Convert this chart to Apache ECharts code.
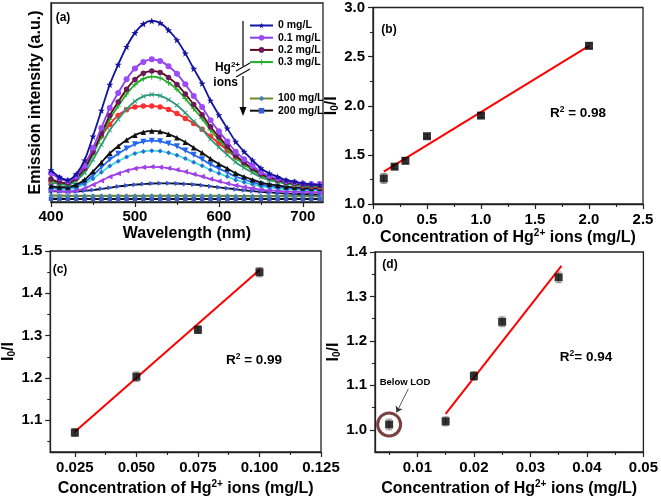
<!DOCTYPE html>
<html><head><meta charset="utf-8">
<script src="https://cdn.jsdelivr.net/npm/echarts@6/dist/echarts.min.js"></script>
<style>html,body{margin:0;padding:0;background:#fff}#c{width:661px;height:499px}</style>
</head><body><div id="c"></div>
<script>
// ---------- Panel (a): emission spectra ----------
const wavelengths = [400,410,420,430,440,450,460,470,480,490,500,510,520,530,540,550,560,570,580,590,600,610,620,630,640,650,660,670,680,690,700,710,720];
const spec0   = [16,12.5,11,14,21,33,46,59,69,78,85,89.5,91,90,86.4,81.4,74.7,67,59.6,51,43.7,37,30.3,25.3,21,17,14.4,12.7,11,10.2,9.4,8.9,8.5];
const spec01  = [14.5,12,10.5,12.8,18.2,27.2,37.2,47.2,54.8,61.7,67.1,70.4,71.7,70.9,68.2,64.4,59.2,53.3,47.7,41.1,35.5,30.4,25.3,21.5,18.2,15.1,13.1,11.8,10.5,9.9,9.3,9.1,9];
const spec02  = [11.5,10,9.5,11.9,16.9,25.1,34.3,43.5,50.3,56.6,61.6,64.7,65.8,65.1,62.6,59.1,54.3,49,43.9,37.8,32.7,28,23.4,19.9,16.9,14.1,12.3,11.1,9.9,9.4,8.8,8.5,8.5];
const spec03  = [11,9.5,9,11.3,16,24,32.8,41.6,48.2,54.2,59,61.9,63,62.3,59.9,56.6,52,46.9,41.9,36.2,31.3,26.8,22.3,18.9,16,13.4,11.6,10.5,9.3,8.8,8.3,8,8];
const spec04  = [10,9,8.5,10.8,14.7,21.3,28.7,36.1,41.6,46.6,50.6,53.1,54,53.4,51.4,48.6,44.8,40.5,36.4,31.6,27.5,23.7,20,17.2,14.7,12.5,11,10.1,9.1,8.7,8.2,8,8];
const spec05  = [10,9.5,10,13,19,26,33,39,43.5,46.3,47.8,48.2,48.2,47.8,46.5,44.5,42,39.5,36.5,33,29.5,26,22.5,19.5,16.5,14,12,10.5,9.5,8.8,8.2,7.8,7.5];
const spec06  = [8,7.5,7.5,8.7,11.2,15.3,19.9,24.5,28,31.1,33.6,35.1,35.7,35.4,34.1,32.3,30,27.3,24.7,21.7,19.1,16.8,14.5,12.7,11.2,9.8,8.9,8.3,7.7,7.4,7.1,7,7];
const spec07  = [7.5,7,7,8,10,13.5,17.4,21.3,24.2,26.9,29,30.3,30.8,30.5,29.4,28,25.9,23.7,21.5,18.9,16.8,14.8,12.8,11.3,10,8.9,8.1,7.6,7.1,6.9,6.6,6.5,6.5];
const spec08  = [7,6.5,6.5,7.2,8.9,11.7,14.9,18.1,20.5,22.6,24.4,25.4,25.8,25.6,24.7,23.5,21.8,20,18.2,16.1,14.4,12.8,11.1,9.9,8.9,7.9,7.3,6.9,6.5,6.3,6.1,6,6];
const spec09  = [6,5.5,5.2,5.8,6.9,8.7,10.7,12.7,14.3,15.7,16.8,17.4,17.7,17.5,17,16.2,15.2,14,12.8,11.5,10.4,9.3,8.3,7.5,6.9,6.2,5.8,5.6,5.3,5.2,5.1,5,5];
const spec10  = [5.5,5.3,5.2,5.3,5.6,6,6.6,7.2,7.8,8.3,8.7,9,9.3,9.4,9.4,9.3,9.1,8.8,8.4,7.9,7.4,6.9,6.4,5.9,5.5,5.1,4.8,4.5,4.3,4.1,4,3.9,3.8];
const spec100 = [3.3,3.2,3.1,3.1,3.1,3.1,3.1,3.1,3.1,3.1,3.1,3.1,3.1,3.1,3.1,3.1,3.1,3.1,3.1,3.1,3.1,3.1,3,3,3,3,3,3,3,3,3,3,3];
const spec200 = [1.6,1.6,1.5,1.5,1.5,1.5,1.5,1.5,1.5,1.5,1.5,1.5,1.5,1.5,1.5,1.5,1.5,1.5,1.5,1.5,1.5,1.5,1.5,1.5,1.5,1.5,1.5,1.5,1.5,1.5,1.5,1.5,1.5];
const specNames = ['0 mg/L','0.1 mg/L','0.2 mg/L','0.3 mg/L','s4','s5','s6','s7','s8','s9','s10','100 mg/L','200 mg/L'];
const waveTicks = [400,500,600,700];
const waveMinor = [450,550,650];

// ---------- Panel (b) ----------
const concB = [0.1,0.2,0.3,0.5,1.0,2.0];
const ratioB = [1.26,1.38,1.44,1.69,1.90,2.61];
const errB = [0.05,0.02,0.03,0.02,0.02,0.03];
const fitB = [[0.1,1.33],[2.0,2.61]];
const bXTicks = [0,0.5,1,1.5,2,2.5], bXMinor = [0.25,0.75,1.25,1.75,2.25];
const bYTicks = [1,1.5,2,2.5,3], bYMinor = [1.25,1.75,2.25,2.75];

// ---------- Panel (c) ----------
const concC = [0.025,0.05,0.075,0.1];
const ratioC = [1.071,1.203,1.314,1.450];
const errC = [0.009,0.011,0.009,0.011];
const fitC = [[0.025,1.073],[0.1,1.455]];
const cXTicks = [0.025,0.05,0.075,0.1,0.125], cXMinor = [0.0375,0.0625,0.0875,0.1125];
const cYTicks = [1.1,1.2,1.3,1.4,1.5], cYMinor = [1.05,1.15,1.25,1.35,1.45];

// ---------- Panel (d) ----------
const concD = [0.005,0.015,0.02,0.025,0.035];
const ratioD = [1.012,1.019,1.121,1.243,1.343];
const errD = [0.012,0.01,0.01,0.011,0.012];
const fitD = [[0.015,1.036],[0.0355,1.369]];
const dXTicks = [0.01,0.02,0.03,0.04,0.05], dXMinor = [0.005,0.015,0.025,0.035,0.045];
const dYTicks = [1.0,1.1,1.2,1.3,1.4], dYMinor = [1.05,1.15,1.25,1.35];

const AX = '#222';
const F = '"Liberation Sans", Arial, sans-serif';
const tickFont = {fontFamily: F, fontWeight: 'bold', fontSize: 15, color: '#000'};
const titleRich = {
  t: {fontFamily: F, fontWeight: 'bold', fontSize: 16, color: '#000'},
  sup: {fontFamily: F, fontWeight: 'bold', fontSize: 10, color: '#000', padding: [0,0,9,0]},
  sub: {fontFamily: F, fontWeight: 'bold', fontSize: 10, color: '#000', padding: [0,0,-7,0]}
};
const concTitle = '{t|Concentration of Hg}{sup|2+}{t| ions (mg/L)}';
const ratioTitle = '{t|I}{sub|0}{t|/I}';

const grids = [
  {left: 51, top: 3, width: 272, height: 199},
  {left: 373, top: 6, width: 270, height: 198},
  {left: 46, top: 251, width: 275, height: 201},
  {left: 375, top: 252, width: 271, height: 200}
].map(g => Object.assign(g, {show: true, borderColor: AX, borderWidth: 1.3, backgroundColor: 'transparent'}));

function mainAxis(gi, min, max, ticks, fmt, extra) {
  return Object.assign({
    type: 'value', gridIndex: gi, min: min, max: max,
    splitLine: {show: false},
    axisLine: {show: true, onZero: false, lineStyle: {color: AX, width: 1.3}},
    axisTick: {show: true, inside: false, length: 5, customValues: ticks, lineStyle: {color: AX, width: 1.2}},
    axisLabel: Object.assign({show: true, customValues: ticks, formatter: fmt}, tickFont)
  }, extra || {});
}
function minorAxis(gi, min, max, minors, pos) {
  return {
    type: 'value', gridIndex: gi, min: min, max: max, position: pos, offset: 0,
    splitLine: {show: false}, axisLine: {show: false},
    axisTick: {show: minors.length > 0, inside: false, length: 3, customValues: minors.length ? minors : [min], lineStyle: {color: AX, width: 1.1}},
    axisLabel: {show: false}
  };
}
const f1 = v => v.toFixed(1), f2 = v => v.toFixed(2), f3 = v => v.toFixed(3), f0 = v => String(v);

const xAxes = [
  mainAxis(0, 400, 724, waveTicks, f0, {position: 'bottom', name: 'Wavelength (nm)', nameLocation: 'middle', nameGap: 24, nameTextStyle: titleRich.t, axisLabel: Object.assign({customValues: waveTicks, formatter: f0, margin: 7}, tickFont)}),
  mainAxis(1, 0, 2.5, bXTicks, f1, {position: 'bottom', name: concTitle, nameLocation: 'middle', nameGap: 20, nameTextStyle: {rich: titleRich}}),
  mainAxis(2, 0.015, 0.125, cXTicks, f3, {position: 'bottom', name: concTitle, nameLocation: 'middle', nameGap: 27, nameTextStyle: {rich: titleRich}}),
  mainAxis(3, 0.0025, 0.05, dXTicks, f2, {position: 'bottom', name: concTitle, nameLocation: 'middle', nameGap: 27, nameTextStyle: {rich: titleRich}}),
  minorAxis(0, 400, 724, waveMinor, 'bottom'),
  minorAxis(1, 0, 2.5, bXMinor, 'bottom'),
  minorAxis(2, 0.015, 0.125, cXMinor, 'bottom'),
  minorAxis(3, 0.0025, 0.05, dXMinor, 'bottom')
];
const yAxes = [
  {type: 'value', gridIndex: 0, min: 0, max: 100, position: 'left', splitLine: {show: false},
   axisLine: {show: true, lineStyle: {color: AX, width: 1.3}}, axisTick: {show: false}, axisLabel: {show: false},
   name: 'Emission intensity (a.u.)', nameLocation: 'middle', nameGap: 7, nameTextStyle: titleRich.t},
  mainAxis(1, 1, 3, bYTicks, f1, {position: 'left', name: ratioTitle, nameLocation: 'middle', nameGap: 27, nameTextStyle: {rich: titleRich}}),
  mainAxis(2, 1.025, 1.5, cYTicks, f1, {position: 'left', name: ratioTitle, nameLocation: 'middle', nameGap: 29, nameTextStyle: {rich: titleRich}}),
  mainAxis(3, 0.95, 1.4, dYTicks, f1, {position: 'left', name: ratioTitle, nameLocation: 'middle', nameGap: 29, nameTextStyle: {rich: titleRich}}),
  minorAxis(0, 0, 100, [], 'left'),
  minorAxis(1, 1, 3, bYMinor, 'left'),
  minorAxis(2, 1.025, 1.5, cYMinor, 'left'),
  minorAxis(3, 0.95, 1.4, dYMinor, 'left')
];

const STAR = 'path://M0,-10 L2.4,-3.1 L9.5,-3.1 L3.8,1.2 L5.9,8.1 L0,3.8 L-5.9,8.1 L-3.8,1.2 L-9.5,-3.1 L-2.4,-3.1 Z';
const PLUS = 'path://M-1.5,-10 L1.5,-10 L1.5,-1.5 L10,-1.5 L10,1.5 L1.5,1.5 L1.5,10 L-1.5,10 L-1.5,1.5 L-10,1.5 L-10,-1.5 L-1.5,-1.5 Z';
const specs = [spec0, spec01, spec02, spec03, spec04, spec05, spec06, spec07, spec08, spec09, spec10, spec100, spec200];
const specStyle = [
  {line: '#1414a0', mark: '#1414a0', sym: STAR, size: 7, rot: 0},
  {line: '#8a3cf0', mark: '#9b4cf7', sym: 'circle', size: 6, rot: 0},
  {line: '#5c0a14', mark: '#6a1a5a', sym: 'circle', size: 5.5, rot: 0},
  {line: '#1faa2a', mark: '#1faa2a', sym: PLUS, size: 6, rot: 0},
  {line: '#2e9a7a', mark: '#2e9a7a', sym: PLUS, size: 6, rot: 45},
  {line: '#ff2020', mark: '#ff3030', sym: 'circle', size: 5.5, rot: 0},
  {line: '#111111', mark: '#111111', sym: 'triangle', size: 5.5, rot: 0},
  {line: '#2266ee', mark: '#2266ee', sym: 'triangle', size: 6, rot: 180},
  {line: '#3fe0d8', mark: '#2a6fd6', sym: 'diamond', size: 5, rot: 0},
  {line: '#a040e8', mark: '#a040e8', sym: 'triangle', size: 5.5, rot: 90},
  {line: '#111111', mark: '#3355dd', sym: 'triangle', size: 5, rot: -90},
  {line: '#6e8b2a', mark: '#4a7fc0', sym: 'diamond', size: 5, rot: 0},
  {line: '#111111', mark: '#3a5fcd', sym: 'rect', size: 4.5, rot: 0}
];
const series = [];
specs.forEach((arr, k) => {
  const s = specStyle[k];
  series.push({
    type: 'line', name: specNames[k], xAxisIndex: 0, yAxisIndex: 0, smooth: 0.3,
    data: wavelengths.map((w, i) => [w, arr[i]]),
    symbol: s.sym, symbolSize: s.size, symbolRotate: s.rot, showAllSymbol: true,
    lineStyle: {color: s.line, width: k >= 11 ? 2.2 : 1.8},
    itemStyle: {color: s.mark, borderWidth: 0},
    z: 20 - k, animation: false
  });
});

function errSeries(xi, xs, ys, es) {
  return {
    type: 'custom', xAxisIndex: xi, yAxisIndex: xi, z: 5, animation: false,
    data: xs.map((x, i) => [x, ys[i] - es[i], ys[i] + es[i]]),
    encode: {x: 0, y: [1, 2]},
    renderItem: function (params, api) {
      const lo = api.coord([api.value(0), api.value(1)]);
      const hi = api.coord([api.value(0), api.value(2)]);
      const st = {stroke: '#888', lineWidth: 1};
      return {type: 'group', children: [
        {type: 'line', shape: {x1: lo[0], y1: lo[1], x2: hi[0], y2: hi[1]}, style: st},
        {type: 'line', shape: {x1: lo[0] - 3, y1: lo[1], x2: lo[0] + 3, y2: lo[1]}, style: st},
        {type: 'line', shape: {x1: hi[0] - 3, y1: hi[1], x2: hi[0] + 3, y2: hi[1]}, style: st}
      ]};
    }
  };
}
function pts(xi, xs, ys) {
  return {type: 'scatter', xAxisIndex: xi, yAxisIndex: xi, symbol: 'rect', symbolSize: 8, z: 8, animation: false,
    itemStyle: {color: '#000'}, data: xs.map((x, i) => [x, ys[i]])};
}
function fit(xi, d) {
  return {type: 'line', xAxisIndex: xi, yAxisIndex: xi, data: d, symbol: 'none', z: 6, animation: false,
    lineStyle: {color: '#ff0000', width: 2}};
}
series.push(fit(1, fitB), errSeries(1, concB, ratioB, errB), pts(1, concB, ratioB));
series.push(fit(2, fitC), errSeries(2, concC, ratioC, errC), pts(2, concC, ratioC));
series.push(fit(3, fitD), errSeries(3, concD, ratioD, errD), pts(3, concD, ratioD));
// Below LOD ring + arrow
series.push({
  type: 'scatter', xAxisIndex: 3, yAxisIndex: 3, symbol: 'circle', symbolSize: 23, z: 9, animation: false,
  itemStyle: {color: 'rgba(0,0,0,0)', borderColor: '#5a1010', borderWidth: 3},
  data: [[concD[0], ratioD[0]]],
  markLine: {silent: true, animation: false, symbol: ['none', 'arrow'], symbolSize: 6,
    lineStyle: {color: '#333', width: 0.8, type: 'solid'}, label: {show: false},
    data: [[{coord: [0.0084, 1.092]}, {coord: [0.0063, 1.039]}]]}
});

const legText = {fontFamily: F, fontWeight: 'bold', fontSize: 10.5, color: '#000'};
const lblStyle = (t, x, y, size) => ({type: 'text', x: x, y: y, z: 50,
  style: {text: t, font: 'bold ' + size + 'px "Liberation Sans", Arial', fill: '#000', align: 'center', verticalAlign: 'middle'}});
const rich2 = {a: {fontFamily: F, fontWeight: 'bold', fontSize: 13.5, color: '#000'},
               s: {fontFamily: F, fontWeight: 'bold', fontSize: 8.5, color: '#000', padding: [0, 0, 7, 0]}};
const r2 = (t, x, y) => ({type: 'text', x: x, y: y, z: 50,
  style: {text: t, rich: rich2, align: 'center', verticalAlign: 'middle'}});

const option = {
  backgroundColor: '#fff',
  animation: false,
  grid: grids,
  xAxis: xAxes,
  yAxis: yAxes,
  legend: [
    {data: specNames.slice(0, 4), orient: 'vertical', left: 249, top: 20, itemWidth: 23, itemHeight: 7, itemGap: 1.2,
     selectedMode: false, textStyle: legText, padding: 0},
    {data: specNames.slice(11), orient: 'vertical', left: 249, top: 93, itemWidth: 23, itemHeight: 7, itemGap: 1.2,
     selectedMode: false, textStyle: legText, padding: 0}
  ],
  series: series,
  graphic: [
    lblStyle('(a)', 63, 18, 12),
    lblStyle('(b)', 389, 30, 12),
    lblStyle('(c)', 60, 270, 12),
    lblStyle('(d)', 390, 265, 12),
    lblStyle('Below LOD', 405, 382, 9.5),
    r2('{a|R}{s|2}{a| = 0.98}', 578, 113),
    r2('{a|R}{s|2}{a| = 0.99}', 254, 360),
    r2('{a|R}{s|2}{a|= 0.94}', 586, 357),
    {type: 'text', x: 240, y: 68, z: 50, style: {text: '{a|Hg}{s|2+}', align: 'right', verticalAlign: 'middle',
      rich: {a: {fontFamily: F, fontWeight: 'bold', fontSize: 12, color: '#000'}, s: {fontFamily: F, fontWeight: 'bold', fontSize: 8, color: '#000', padding: [0,0,7,0]}}}},
    {type: 'text', x: 238, y: 83, z: 50, style: {text: 'ions', font: 'bold 12px "Liberation Sans", Arial', fill: '#000', align: 'right', verticalAlign: 'middle'}},
    {type: 'line', z: 50, shape: {x1: 243, y1: 21, x2: 243, y2: 66}, style: {stroke: '#000', lineWidth: 1.2}},
    {type: 'line', z: 50, shape: {x1: 243, y1: 76, x2: 243, y2: 109}, style: {stroke: '#000', lineWidth: 1.2}},
    {type: 'polygon', z: 50, shape: {points: [[239.5, 107], [246.5, 107], [243, 116]]}, style: {fill: '#000'}},
    {type: 'line', z: 50, shape: {x1: 236, y1: 71, x2: 250, y2: 63}, style: {stroke: '#000', lineWidth: 1.1}},
    {type: 'line', z: 50, shape: {x1: 236, y1: 77, x2: 250, y2: 69}, style: {stroke: '#000', lineWidth: 1.1}}
  ]
};
const chart = echarts.init(document.getElementById('c'), null, {renderer: 'canvas'});
chart.setOption(option);
</script></body></html>
